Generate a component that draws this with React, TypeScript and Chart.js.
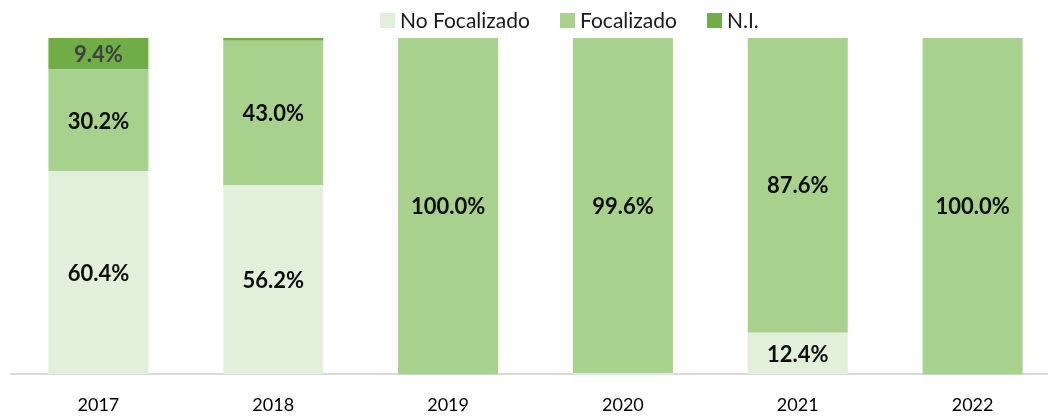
import React, { useEffect, useRef } from 'react';
import { Chart, registerables } from 'chart.js';

Chart.register(...registerables);

const categories = ['2017', '2018', '2019', '2020', '2021', '2022'];
const seriesNames = ['No Focalizado', 'Focalizado', 'N.I.'];
const noFocalizado = [60.4, 56.2, 0, 0.4, 12.4, 0];
const focalizado = [30.2, 43.0, 100.0, 99.6, 87.6, 100.0];
const noInformado = [9.4, 0.8, 0, 0, 0, 0];
const seriesColors = ['#E2EFDA', '#A9D18E', '#70AD47'];

const FONT = 'Lato, "Open Sans", "DejaVu Sans", sans-serif';
const CANVAS_H = 436;

const labelPlugin = {
  id: 'segmentLabels',
  afterDatasetsDraw(chart: any) {
    const ctx = chart.ctx;
    ctx.save();
    ctx.font = `bold 22px ${FONT}`;
    ctx.textAlign = 'center';
    ctx.textBaseline = 'middle';
    chart.data.datasets.forEach((ds: any, di: number) => {
      const meta = chart.getDatasetMeta(di);
      meta.data.forEach((el: any, i: number) => {
        const v = ds.data[i];
        if (v < 1) return;
        ctx.fillStyle = di === 2 ? '#404040' : '#0d0d0d';
        ctx.fillText(v.toFixed(1) + '%', el.x, (el.y + el.base) / 2 + 1);
      });
    });
    ctx.restore();
  },
};

export default function App() {
  const ref = useRef<HTMLCanvasElement | null>(null);

  useEffect(() => {
    if (!ref.current) return;
    const values = [noFocalizado, focalizado, noInformado];
    const chart = new Chart(ref.current, {
      type: 'bar',
      data: {
        labels: categories,
        datasets: seriesNames.map((name, i) => ({
          label: name,
          data: values[i],
          backgroundColor: seriesColors[i],
          borderWidth: 0,
          categoryPercentage: 1,
          barPercentage: 0.572,
        })),
      },
      options: {
        animation: false,
        responsive: false,
        maintainAspectRatio: false,
        layout: { padding: { left: 11, right: 0, top: 38, bottom: 0 } },
        plugins: {
          legend: { display: false },
          tooltip: { enabled: false },
        },
        scales: {
          x: {
            stacked: true,
            grid: { display: false, drawTicks: false },
            border: { display: true, color: '#D9D9D9', width: 2 },
            ticks: {
              color: '#000000',
              padding: 20,
              font: { family: FONT, size: 18 },
            },
          },
          y: {
            stacked: true,
            display: false,
            min: 0,
            max: 100,
          },
        },
      },
      plugins: [labelPlugin],
    });
    return () => chart.destroy();
  }, []);

  const legendItems = [
    { box: 380, text: 400 },
    { box: 560, text: 580 },
    { box: 707, text: 727 },
  ];

  return (
    <div style={{ position: 'fixed', left: 0, top: 0, width: 1048, height: 416, overflow: 'hidden', background: '#fff' }}>
      <canvas ref={ref} width={1060} height={CANVAS_H} style={{ position: 'absolute', left: 0, top: 0, width: 1060, height: CANVAS_H }} />
      {legendItems.map((it, i) => (
        <React.Fragment key={seriesNames[i]}>
          <div style={{ position: 'absolute', left: it.box, top: 13, width: 15, height: 15, background: seriesColors[i] }} />
          <div style={{ position: 'absolute', left: it.text, top: 6, fontFamily: FONT, fontSize: 21, lineHeight: '28px', color: '#1a1a1a', whiteSpace: 'nowrap' }}>
            {seriesNames[i]}
          </div>
        </React.Fragment>
      ))}
    </div>
  );
}
